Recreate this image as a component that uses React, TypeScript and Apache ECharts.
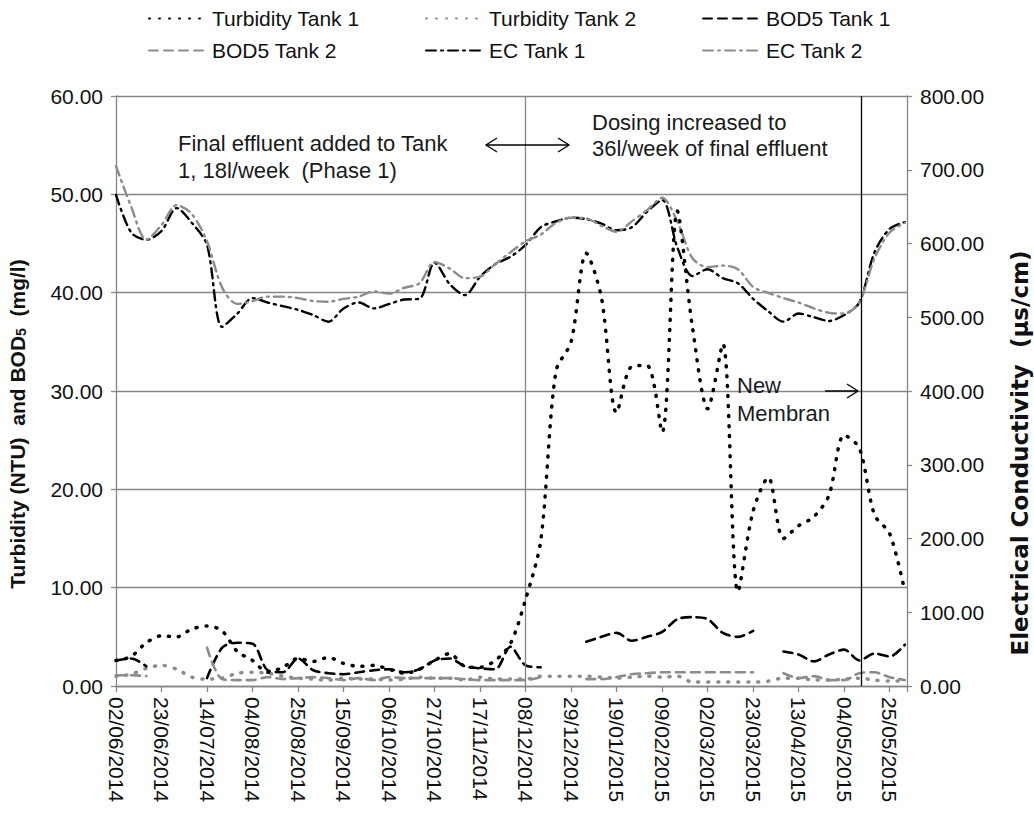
import React, { useEffect, useRef } from "react";
import * as echarts from "echarts";

const DATES = [
  "2014-06-02", "2014-06-09", "2014-06-16", "2014-06-23", "2014-06-30", "2014-07-07", "2014-07-14",
  "2014-07-21", "2014-07-28", "2014-08-04", "2014-08-11", "2014-08-18", "2014-08-25", "2014-09-01",
  "2014-09-08", "2014-09-15", "2014-09-22", "2014-09-29", "2014-10-06", "2014-10-13", "2014-10-20",
  "2014-10-27", "2014-11-03", "2014-11-10", "2014-11-17", "2014-11-24", "2014-12-01", "2014-12-08",
  "2014-12-15", "2014-12-22", "2014-12-29", "2015-01-05", "2015-01-12", "2015-01-19", "2015-01-26",
  "2015-02-02", "2015-02-09", "2015-02-16", "2015-02-23", "2015-03-02", "2015-03-09", "2015-03-16",
  "2015-03-23", "2015-03-30", "2015-04-06", "2015-04-13", "2015-04-20", "2015-04-27", "2015-05-04",
  "2015-05-11", "2015-05-18", "2015-05-25", "2015-06-01",
];

const TURBIDITY_T1 = [
  2.6, 3.0, 4.4, 5.1, 5.0, 5.8, 6.1, 5.6, 3.5, 2.6, 1.4, 1.9, 2.8, 2.5,
  2.9, 2.3, 2.0, 2.1, 1.7, 1.3, 1.7, 2.6, 3.3, 2.0, 1.9, 2.6, 4.3, 8.8,
  14.8, 32.0, 35.0, 44.0, 39.5, 27.8, 32.5, 32.6, 25.8, 48.3, 36.5, 28.2, 34.8, 9.6,
  17.8, 21.2, 15.0, 16.3, 17.2, 19.4, 25.5, 24.2, 17.4, 15.5, 9.6,
];

const TURBIDITY_T2 = [
  1.0, 1.2, 1.8, 2.1, 1.7, 0.9, 0.7, 0.8, 1.3, 1.4, 1.3, 1.0, 0.8, 0.7,
  0.6, 0.8, 0.7, 0.7, 0.6, 0.7, 0.9, 0.8, 0.8, 0.6, 0.9, 0.7, 0.7, 0.7,
  1.0, 1.0, 1.0, 1.0, 0.9, 0.8, 0.9, 1.0, 0.9, 1.0, 0.4, 0.4, 0.4, 0.4,
  0.4, 0.5, 0.8, 0.8, 0.6, 0.6, 0.7, 0.8, 0.6, 0.5, 0.5,
];

const BOD5_T1 = [
  2.6, 2.8, 2.0, null, null, null, 0.8, 3.9, 4.4, 4.3, 1.6, 1.4, 2.8, 1.6,
  1.3, 1.2, 1.4, 1.6, 1.7, 1.4, 1.7, 2.6, 2.8, 2.0, 1.8, 1.7, 4.0, 2.1,
  1.9, null, null, 4.5, 5.0, 5.4, 4.6, 5.0, 5.5, 6.8, 7.0, 6.8, 5.4, 5.0,
  5.6, null, 3.5, 3.2, 2.5, 3.2, 3.7, 2.6, 3.3, 3.0, 4.2,
];

const BOD5_T2 = [
  1.1, 1.1, 1.0, null, null, null, 3.9, 0.7, 0.6, 0.6, 0.9, 0.7, 0.8, 0.9,
  0.8, 0.6, 0.8, 0.6, 0.9, 0.8, 0.8, 0.8, 0.8, 0.7, 0.6, 0.6, 0.6, 0.6,
  0.9, null, null, 0.7, 0.7, 0.9, 1.2, 1.3, 1.4, 1.4, 1.4, 1.4, 1.4, 1.4,
  1.4, null, 1.3, 0.8, 1.0, 0.6, 0.6, 1.3, 1.4, 0.9, 0.6,
];

const EC_T1 = [
  666, 615, 605, 617, 648, 628, 598, 487, 505, 526, 520, 515, 510, 503,
  494, 512, 520, 512, 518, 524, 525, 574, 545, 530, 555, 572, 582, 598,
  622, 630, 635, 633, 627, 618, 622, 643, 659, 595, 556, 565, 553, 546,
  525, 508, 494, 505, 500, 495, 503, 520, 588, 620, 629,
];

const EC_T2 = [
  705, 650, 605, 625, 652, 640, 603, 540, 518, 522, 528, 528, 526, 522,
  521, 525, 528, 535, 532, 540, 546, 575, 566, 553, 555, 572, 588, 603,
  612, 628, 635, 634, 624, 616, 630, 645, 662, 630, 580, 568, 570, 565,
  541, 533, 526, 520, 512, 506, 505, 520, 580, 615, 628,
];

const SERIES_NAMES = [
  "Turbidity Tank 1",
  "Turbidity Tank 2",
  "BOD5 Tank 1",
  "BOD5 Tank 2",
  "EC Tank 1",
  "EC Tank 2",
];

const START_DATE = "2014-06-02";
const AXIS_DAYS = 365;
const TICK_DAYS = 21;
const PHASE2_DATE = "2014-12-08";
const MEMBRANE_DATE = "2015-05-12";

const FONT = "'Liberation Sans', Arial, sans-serif";
const WIDE_FONT = "'DejaVu Sans', 'Liberation Sans', sans-serif";
const GREY = "#8c8c8c";
const GRID = "#868686";

const dayOf = (d: string) => Math.round((Date.parse(d) - Date.parse(START_DATE)) / 86400000);
const pad = (n: number) => (n < 10 ? "0" + n : "" + n);
const labelOf = (day: number) => {
  const t = new Date(Date.parse(START_DATE) + day * 86400000);
  return pad(t.getUTCDate()) + "/" + pad(t.getUTCMonth() + 1) + "/" + t.getUTCFullYear();
};
const toData = (vals: (number | null)[]) => DATES.map((d, i) => [dayOf(d), vals[i]]);

export default function App() {
  const ref = useRef<HTMLDivElement>(null);

  useEffect(() => {
    if (!ref.current) return;
    const chart = echarts.init(ref.current, null, { renderer: "svg" });

    const dotted = [1, 9];
    const dashed = [9, 6];
    const dashDot = [10, 5, 2, 5];

    const mk = (
      name: string,
      vals: (number | null)[],
      color: string,
      type: number[],
      width: number,
      yAxisIndex: number,
      extra: any = {}
    ) => ({
      name,
      type: "line",
      yAxisIndex,
      data: toData(vals),
      showSymbol: false,
      symbol: "none",
      smooth: 0.3,
      connectNulls: false,
      lineStyle: { color, type, width, cap: "round" },
      itemStyle: { color },
      ...extra,
    });

    const legendLeft = [143, 420, 697];
    const legends = SERIES_NAMES.map((n, i) => ({
      data: [n],
      left: legendLeft[i % 3],
      top: i < 3 ? 3 : 35,
      itemWidth: 58,
      itemHeight: 12,
      selectedMode: false,
      itemStyle: { opacity: 0 },
      textStyle: { fontFamily: FONT, fontSize: 21, color: "#111" },
    }));

    const annText = (text: string, x: number, y: number) => ({
      type: "text",
      x,
      y,
      style: {
        text,
        fontFamily: FONT,
        fontSize: 22,
        fill: "#1a1a1a",
        verticalAlign: "middle",
      },
      z: 100,
    });
    const seg = (x1: number, y1: number, x2: number, y2: number) => ({
      type: "line",
      shape: { x1, y1, x2, y2 },
      style: { stroke: "#000", lineWidth: 1.3 },
      z: 100,
    });
    const head = (pts: number[][]) => ({
      type: "polyline",
      shape: { points: pts },
      style: { stroke: "#000", lineWidth: 1.3, fill: null },
      z: 100,
    });

    chart.setOption({
      animation: false,
      textStyle: { fontFamily: FONT },
      legend: legends,
      grid: { left: 116, right: 127, top: 96, bottom: 132, containLabel: false, outerBoundsMode: "none" },
      xAxis: {
        type: "value",
        min: 0,
        max: AXIS_DAYS,
        interval: TICK_DAYS,
        splitLine: { show: false },
        axisLine: { lineStyle: { color: GRID, width: 1.3 } },
        axisTick: { show: true, length: 6, lineStyle: { color: GRID, width: 1.3 } },
        axisLabel: {
          rotate: -90,
          margin: 11,
          fontFamily: FONT,
          fontSize: 21,
          color: "#111",
          formatter: (v: number) => (v % TICK_DAYS === 0 ? labelOf(v) : ""),
        },
      },
      yAxis: [
        {
          type: "value",
          min: 0,
          max: 60,
          interval: 10,
          position: "left",
          name: "Turbidity (NTU)  and BOD{sub|5}  (mg/l)",
          nameLocation: "middle",
          nameRotate: 90,
          nameGap: 88,
          nameTextStyle: {
            fontFamily: FONT,
            fontSize: 21,
            fontWeight: "bold",
            color: "#111",
            padding: [0, 66, 0, 0],
            rich: {
              sub: { fontFamily: FONT, fontSize: 14, fontWeight: "bold", color: "#111", verticalAlign: "bottom", padding: [8, 0, 0, 0] },
            },
          },
          axisLine: { show: true, lineStyle: { color: GRID, width: 1.3 } },
          axisTick: { show: true, length: 5, lineStyle: { color: GRID, width: 1.3 } },
          splitLine: { show: true, lineStyle: { color: GRID, width: 1.3 } },
          axisLabel: { margin: 13, fontFamily: FONT, fontSize: 21, color: "#111", formatter: (v: number) => v.toFixed(2) },
        },
        {
          type: "value",
          min: 0,
          max: 800,
          interval: 100,
          position: "right",
          name: "Electrical Conductivity  (\u00b5s/cm)",
          nameLocation: "middle",
          nameRotate: 90,
          nameGap: 101,
          nameTextStyle: { fontFamily: WIDE_FONT, fontSize: 23, fontWeight: "bold", color: "#111", padding: [0, 124, 0, 0] },
          axisLine: { show: true, lineStyle: { color: GRID, width: 1.3 } },
          axisTick: { show: true, length: 5, lineStyle: { color: GRID, width: 1.3 } },
          splitLine: { show: false },
          axisLabel: { margin: 13, fontFamily: FONT, fontSize: 21, color: "#111", formatter: (v: number) => v.toFixed(2) },
        },
      ],
      series: [
        mk(SERIES_NAMES[0], TURBIDITY_T1, "#000", dotted, 3.5, 0, {
          z: 5,
          markLine: {
            silent: true,
            symbol: "none",
            label: { show: false },
            data: [
              { xAxis: dayOf(PHASE2_DATE), lineStyle: { color: GRID, type: "solid", width: 1.3 } },
              { xAxis: dayOf(MEMBRANE_DATE), lineStyle: { color: "#000", type: "solid", width: 1.3 } },
            ],
          },
        }),
        mk(SERIES_NAMES[1], TURBIDITY_T2, GREY, dotted, 3.5, 0),
        mk(SERIES_NAMES[2], BOD5_T1, "#000", dashed, 2.6, 0),
        mk(SERIES_NAMES[3], BOD5_T2, GREY, dashed, 2.6, 0),
        mk(SERIES_NAMES[4], EC_T1, "#000", dashDot, 2.4, 1),
        mk(SERIES_NAMES[5], EC_T2, GREY, dashDot, 2.4, 1),
      ],
      graphic: [
        annText("Final effluent added to Tank", 178, 143),
        annText("1, 18l/week  (Phase 1)", 178, 170),
        annText("Dosing increased to", 592, 122),
        annText("36l/week of final effluent", 592, 148),
        annText("New", 737, 385),
        annText("Membran", 737, 413),
        seg(486, 145, 569, 145),
        head([[497, 138], [486, 145], [497, 152]]),
        head([[558, 138], [569, 145], [558, 152]]),
        seg(825, 391, 858, 391),
        head([[847, 384], [858, 391], [847, 398]]),
      ],
    });

    return () => chart.dispose();
  }, []);

  return <div ref={ref} style={{ position: "absolute", left: 0, top: 0, width: 1034, height: 818 }} />;
}
